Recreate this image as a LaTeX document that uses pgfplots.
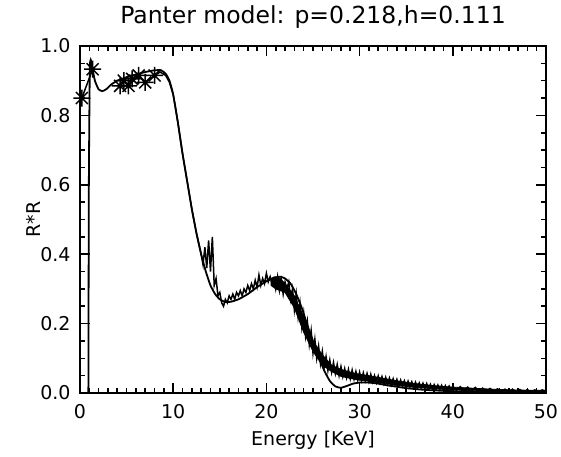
\documentclass[border=0pt]{standalone}
\usepackage{fontspec}
\setmainfont{DejaVu Sans}
\usepackage{pgfplots}
\pgfplotsset{compat=1.18}

% eight-armed asterisk like the IDL psym=2 symbol
\pgfdeclareplotmark{star8}{%
  \pgfpathmoveto{\pgfqpoint{-\pgfplotmarksize}{0pt}}%
  \pgfpathlineto{\pgfqpoint{\pgfplotmarksize}{0pt}}%
  \pgfpathmoveto{\pgfqpoint{0pt}{-\pgfplotmarksize}}%
  \pgfpathlineto{\pgfqpoint{0pt}{\pgfplotmarksize}}%
  \pgfpathmoveto{\pgfqpoint{-.707\pgfplotmarksize}{-.707\pgfplotmarksize}}%
  \pgfpathlineto{\pgfqpoint{.707\pgfplotmarksize}{.707\pgfplotmarksize}}%
  \pgfpathmoveto{\pgfqpoint{-.707\pgfplotmarksize}{.707\pgfplotmarksize}}%
  \pgfpathlineto{\pgfqpoint{.707\pgfplotmarksize}{-.707\pgfplotmarksize}}%
  \pgfusepathqstroke}

\begin{document}
\begin{tikzpicture}
\useasboundingbox (-80bp,-64bp) rectangle (481bp,393bp);
\begin{axis}[
  scale only axis, width=466bp, height=347bp,
  xmin=0, xmax=50, ymin=0, ymax=1.0,
  xtick={0,10,...,50}, ytick={0,0.2,...,1.0},
  minor x tick num=9, minor y tick num=3,
  tick pos=both, tick align=inside,
  major tick length=10bp, minor tick length=5bp,
  axis line style={line width=2.4bp},
  every tick/.style={line width=1.6bp, black},
  /pgf/number format/assume math mode=true,
  y tick label style={/pgf/number format/fixed, /pgf/number format/fixed zerofill, /pgf/number format/precision=1},
  ticklabel style={font=\fontsize{19bp}{21bp}\selectfont},
  xticklabel style={yshift=-8bp},
  yticklabel style={xshift=-6bp},
  title={Panter model: p=0.218,h=0.111},
  title style={font=\fontsize{23.5bp}{25bp}\selectfont, at={(axis description cs:0.5,1.047)}, anchor=base},
  xlabel={Energy [KeV]},
  xlabel style={font=\fontsize{19bp}{21bp}\selectfont, at={(axis description cs:0.5,-0.152)}, anchor=base},
  ylabel={R*R},
  ylabel style={font=\fontsize{19bp}{21bp}\selectfont, at={(axis description cs:-0.10,0.5)}, anchor=center},
]
% ---- measured points, low energy (asterisks) ----
\addplot[black, line width=1.5bp, mark=star8, mark size=8.5bp, mark options={line width=1.5bp}] coordinates {
  (0.2,0.850) (1.35,0.933)
};
\addplot[black, line width=1.5bp, mark=star8, mark size=8.5bp, mark options={line width=1.5bp}] coordinates {
  (4.3,0.885) (4.7,0.900) (5.2,0.885) (5.6,0.905) (6.3,0.915) (7.0,0.895) (8.0,0.915)
};
% ---- dense scatter band of the measurement (20.5-50 keV), upper then lower edge ----
\addplot[black, fill=black, line width=0.8bp] coordinates {
  (20.5,0.33) (21,0.335) (21.5,0.33) (22,0.315) (23,0.28) (24,0.22) (25,0.15) (26,0.11)
  (27,0.08) (28,0.068) (29,0.060)
  (30,0.054) (31,0.050) (32,0.045) (33,0.040) (34,0.035) (35,0.031) (36,0.027) (37,0.024)
  (38,0.021) (40,0.017) (42,0.014) (45,0.010) (48,0.008) (50,0.008)
  (50,0.002) (48,0.003) (45,0.004) (42,0.007) (40,0.009) (38,0.012) (37,0.014) (36,0.016)
  (35,0.019) (34,0.022) (33,0.026) (32,0.030) (31,0.034) (30,0.037) (29,0.042) (28,0.048)
  (27,0.062) (26,0.080) (25,0.120) (24,0.175) (23,0.245) (22,0.290) (21.5,0.295)
  (21,0.300) (20.5,0.310)
} -- cycle;
% ---- measured points, dense part ----
\addplot[black, line width=1.5bp] coordinates {
  (8.0,0.915) (8.6,0.925) (9.2,0.915) (9.6,0.895) (10.0,0.86) (10.5,0.78) (11.0,0.69)
  (11.5,0.61) (12.0,0.53) (12.5,0.46)
  (13.0,0.40) (13.2,0.37) (13.4,0.42) (13.6,0.36) (13.8,0.44) (14.0,0.35) (14.2,0.45)
  (14.4,0.31) (14.6,0.33) (14.8,0.28) (15.0,0.29) (15.2,0.26) (15.4,0.25) (15.6,0.27)
  (15.8,0.26) (16.0,0.28) (16.2,0.27) (16.4,0.285) (16.6,0.27) (16.8,0.29) (17.0,0.28)
  (17.2,0.295) (17.4,0.28) (17.6,0.30) (17.8,0.29) (18.0,0.31) (18.2,0.295) (18.4,0.315)
  (18.6,0.30) (18.8,0.325) (19.0,0.305) (19.2,0.34) (19.4,0.31) (19.6,0.33) (19.8,0.315)
  (20.0,0.345) (20.2,0.32) (20.4,0.335) (20.6,0.315) (20.8,0.33) (21.0,0.30) (21.2,0.335)
  (21.4,0.295) (21.6,0.325) (21.8,0.285) (22.0,0.32)
  (22.2,0.30) (22.4,0.32) (22.6,0.27) (22.8,0.30) (23.0,0.24) (23.2,0.285) (23.4,0.22)
  (23.6,0.26) (23.8,0.19) (24.0,0.23) (24.2,0.165) (24.4,0.205) (24.6,0.14) (24.8,0.18)
  (25.0,0.115) (25.2,0.155) (25.4,0.10) (25.6,0.135) (25.8,0.085) (26.0,0.12) (26.2,0.075)
  (26.4,0.105) (26.6,0.065) (26.8,0.095) (27.0,0.060) (27.2,0.088) (27.4,0.056) (27.6,0.082)
  (27.8,0.050) (28.0,0.076) (28.2,0.047) (28.4,0.070) (28.6,0.044) (28.8,0.068) (29.0,0.041)
  (29.2,0.066) (29.4,0.040) (29.6,0.062) (29.8,0.037) (30.0,0.060) (30.2,0.036) (30.4,0.058)
  (30.6,0.035) (30.8,0.056) (31.0,0.033) (31.2,0.054) (31.4,0.032) (31.6,0.050) (31.8,0.030)
  (32.0,0.049) (32.2,0.029) (32.4,0.047) (32.6,0.027) (32.8,0.045) (33.0,0.026) (33.2,0.043)
  (33.4,0.024) (33.6,0.041) (33.8,0.023) (34.0,0.039) (34.2,0.021) (34.4,0.037) (34.6,0.020)
  (34.8,0.035) (35.0,0.018) (35.2,0.034) (35.4,0.017) (35.6,0.032) (35.8,0.016) (36.0,0.031)
  (36.2,0.015) (36.4,0.029) (36.6,0.014) (36.8,0.028) (37.0,0.013) (37.2,0.027) (37.4,0.012)
  (37.6,0.025) (37.8,0.011) (38.0,0.024) (38.2,0.011) (38.4,0.023) (38.6,0.010) (38.8,0.022)
  (39.0,0.009) (39.2,0.021) (39.4,0.009) (39.6,0.020) (39.8,0.008) (40.0,0.019) (40.4,0.008)
  (40.8,0.018) (41.2,0.007) (41.6,0.017) (42.0,0.006) (42.4,0.016) (42.8,0.005) (43.2,0.014)
  (43.6,0.005) (44.0,0.013) (44.4,0.004) (44.8,0.012) (45.2,0.003) (45.6,0.011) (46.0,0.003)
  (46.4,0.011) (46.8,0.002) (47.2,0.010) (47.6,0.002) (48.0,0.010) (48.4,0.002) (48.8,0.009)
  (49.2,0.002) (49.6,0.009) (50.0,0.003)
};
% ---- model curve ----
\addplot[black, line width=1.8bp, smooth, tension=0.3] coordinates {
  (0.9,0.0) (0.95,0.6) (1.05,0.93) (1.15,0.96) (1.3,0.94) (1.6,0.90) (2.0,0.875) (2.4,0.87)
  (2.8,0.875) (3.3,0.888) (4.0,0.90) (5.0,0.91) (6.0,0.918) (7.0,0.925) (8.0,0.93) (8.7,0.93)
  (9.2,0.92) (9.6,0.90) (10.0,0.86) (10.5,0.78) (11.0,0.69) (11.5,0.61) (12.0,0.53) (12.5,0.46)
  (13.0,0.40) (13.5,0.35) (14.0,0.31) (14.5,0.285) (15.0,0.27) (15.6,0.262) (16.2,0.263)
  (17.0,0.27) (18.0,0.285) (19.0,0.305) (20.0,0.322) (20.8,0.332) (21.5,0.335) (22.0,0.33)
  (22.6,0.315) (23.2,0.285) (23.8,0.245) (24.4,0.195) (25.0,0.15) (25.6,0.105) (26.2,0.065)
  (26.8,0.035) (27.4,0.019) (28.0,0.015) (28.6,0.020) (29.3,0.027) (30.0,0.030) (31.0,0.030)
  (32.0,0.027) (33.0,0.022) (34.0,0.018) (35.0,0.014) (37.0,0.009) (40.0,0.005) (43.0,0.003)
  (46.0,0.002) (50.0,0.001)
};
\end{axis}
\end{tikzpicture}
\end{document}
